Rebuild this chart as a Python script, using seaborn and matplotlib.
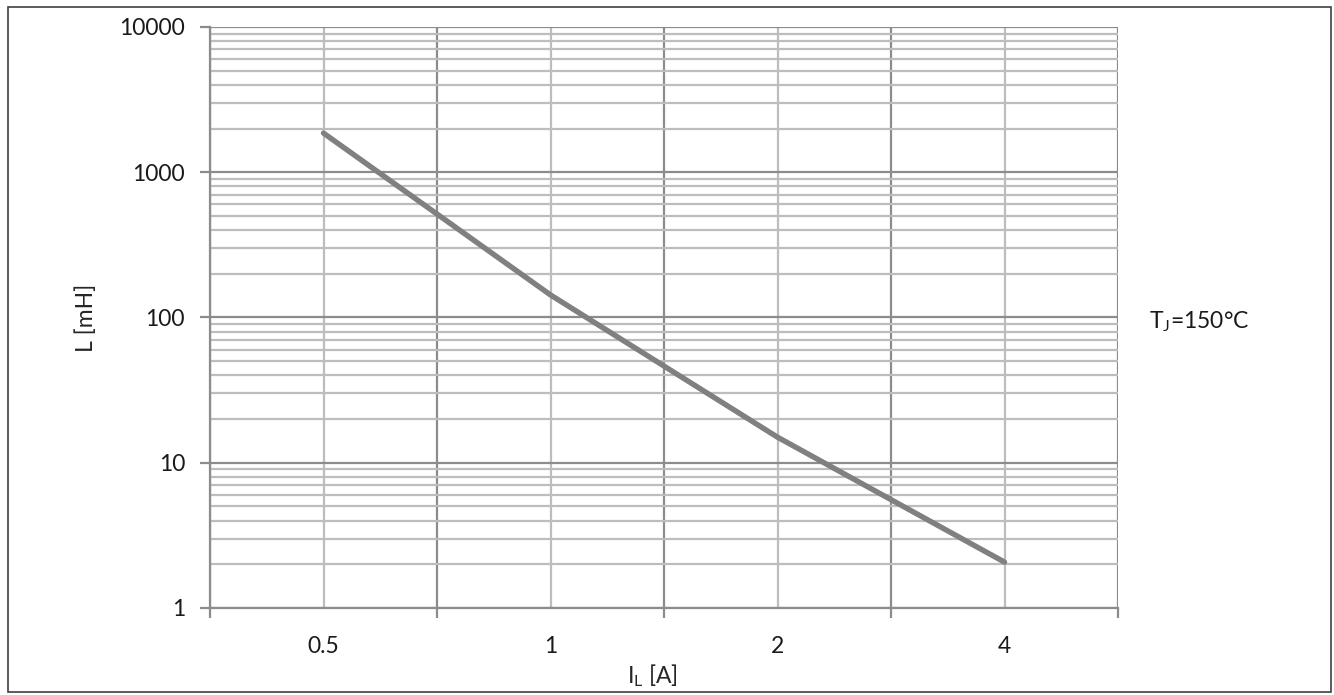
import numpy as np
import pandas as pd
import matplotlib
matplotlib.use("Agg")
import matplotlib.pyplot as plt
import matplotlib.ticker as mticker
from matplotlib.patches import Rectangle
import seaborn as sns

# data
current = [0.5, 1, 2, 4]            # I_L [A]
inductance = [1860, 143, 15, 2.07]  # L [mH]
x_labels = ["0.5", "1", "2", "4"]
y_ticks = [1, 10, 100, 1000, 10000]

sns.set_style("white")
plt.rcParams['font.family'] = ['Lato', 'DejaVu Sans']
plt.rcParams['mathtext.default'] = 'regular'
plt.rcParams['font.size'] = 16.5
plt.rcParams['text.color'] = '#1a1a1a'

df = pd.DataFrame({"I": current, "L": inductance})

fig = plt.figure(figsize=(13.34, 6.95), dpi=100)
ax = fig.add_axes([210/1334, 1-608/695, (1118-210)/1334, (608-27)/695])

sns.lineplot(data=df, x="I", y="L", ax=ax, color="#808080", linewidth=3.9,
             solid_capstyle="round", zorder=5)

major_col = "#8c8c8c"
minor_col = "#bdbdbd"

# x: log2, category centres at 0.5,1,2,4 with boundaries in between
ax.set_xscale("log", base=2)
ax.set_xlim(0.5/np.sqrt(2), 4*np.sqrt(2))
bounds = [0.5*2**(k-0.5) for k in range(5)]
ax.xaxis.set_major_locator(mticker.FixedLocator(bounds))
ax.xaxis.set_major_formatter(mticker.NullFormatter())
ax.xaxis.set_minor_locator(mticker.FixedLocator(current))
ax.xaxis.set_minor_formatter(mticker.FixedFormatter(x_labels))

ax.set_yscale("log")
ax.set_ylim(1, 10000)
ax.yaxis.set_major_locator(mticker.FixedLocator(y_ticks))
ax.yaxis.set_major_formatter(mticker.FixedFormatter([str(v) for v in y_ticks]))
ax.yaxis.set_minor_locator(mticker.LogLocator(base=10, subs=np.arange(2, 10)))
ax.yaxis.set_minor_formatter(mticker.NullFormatter())

ax.grid(True, which="major", color=major_col, lw=1.6)
ax.grid(True, which="minor", color=minor_col, lw=1.6)
ax.set_axisbelow(True)

ax.tick_params(axis="x", which="major", direction="out", length=7, width=1.6,
               color=major_col, bottom=True)
ax.tick_params(axis="x", which="minor", length=0, pad=20, labelsize=16.5,
               labelcolor="#1a1a1a")
ax.tick_params(axis="y", which="major", direction="out", length=7, width=1.6,
               color=major_col, pad=11, labelsize=16.5, left=True,
               labelcolor="#1a1a1a")
ax.tick_params(axis="y", which="minor", length=0)

for s in ["top", "right"]:
    ax.spines[s].set_visible(False)
for s in ["left", "bottom"]:
    ax.spines[s].set_color(major_col)
    ax.spines[s].set_linewidth(1.6)

ax.set_xlabel("$I_L$ [A]", fontsize=16.5)
ax.set_ylabel("L [mH]", fontsize=16.5)
ax.xaxis.set_label_coords(0.487, -0.093)
ax.yaxis.set_label_coords(-0.125, 0.5)

fig.text(1149/1334, 1-322/695, "$T_J$=150°C", fontsize=16.5, va="center", ha="left")

fig.patches.append(Rectangle((8/1334, 1-692/695), (1331-8)/1334, (692-7)/695,
                             transform=fig.transFigure, fill=False,
                             edgecolor="#404040", lw=1.2))

plt.savefig("out.png", dpi=100)
